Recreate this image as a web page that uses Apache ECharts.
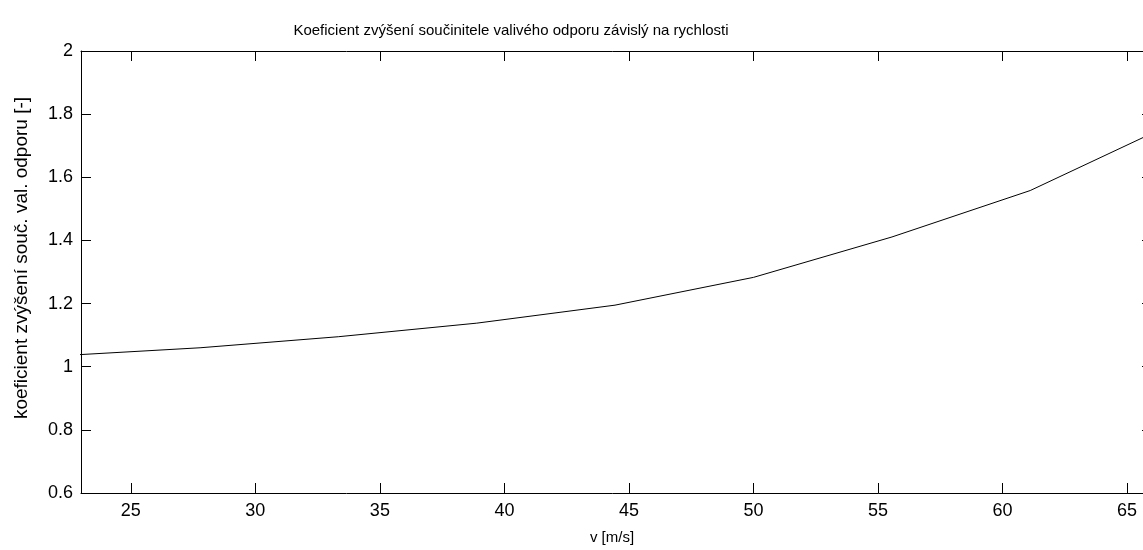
<!DOCTYPE html>
<html>
<head>
<meta charset="utf-8">
<script src="https://cdn.jsdelivr.net/npm/echarts@6/dist/echarts.min.js"></script>
<style>
  html, body { margin: 0; padding: 0; background: #fff; }
  #chart { width: 1143px; height: 550px; }
</style>
</head>
<body>
<div id="chart"></div>
<script>
// Speeds (m/s) and the corresponding rolling-resistance increase coefficient
const speeds = [22.22, 27.78, 33.33, 38.89, 44.44, 50.00, 55.56, 61.11, 66.67];
const coefficients = [1.035, 1.060, 1.095, 1.138, 1.195, 1.283, 1.411, 1.558, 1.764];

// Axis ranges and tick spacing
const X_MIN = 23, X_MAX = 66, X_STEP = 5;
const Y_MIN = 0.6, Y_MAX = 2, Y_STEP = 0.2;

const titleText = 'Koeficient zvýšení součinitele valivého odporu závislý na rychlosti';
const xName = 'v [m/s]';
const yName = 'koeficient zvýšení souč. val. odporu [-]';

const labelFont = '"Liberation Sans", Arial, sans-serif';

const PLOT = { left: 81, top: 51, width: 1071, height: 442 };
const TICK_LEN = 10;

const chart = echarts.init(document.getElementById('chart'), null, { renderer: 'canvas' });

function gridRect(r) {
  return Object.assign({ containLabel: false, outerBoundsMode: 'none' }, r);
}
function axisLine(show) {
  return { show: show, onZero: false, lineStyle: { color: '#000', width: 1 } };
}
function tick(show) {
  return show ? { show: true, inside: true, length: TICK_LEN, lineStyle: { color: '#000', width: 1 } }
              : { show: false };
}
// short split lines inside a thin strip act as the inward tick marks
function strip(show) {
  return show ? { show: true, lineStyle: { color: '#000', width: 1, type: 'solid' } } : { show: false };
}

function xAxisCfg(o) {
  return {
    gridIndex: o.grid,
    type: 'value', min: X_MIN, max: X_MAX, position: o.position,
    // ticks fall on multiples of X_STEP between the fixed limits
    splitNumber: Math.round((X_MAX - X_MIN) / X_STEP),
    minInterval: X_STEP, maxInterval: X_STEP,
    axisLine: axisLine(o.line !== false),
    axisTick: tick(!!o.tick),
    axisLabel: o.labels ? {
      margin: 9, color: '#000', fontFamily: labelFont, fontSize: 18,
      showMinLabel: false, showMaxLabel: false
    } : { show: false },
    splitLine: strip(!!o.split)
  };
}

function yAxisCfg(o) {
  return {
    gridIndex: o.grid,
    type: 'value', min: Y_MIN, max: Y_MAX, interval: Y_STEP, position: o.position,
    axisLine: axisLine(o.line !== false),
    axisTick: tick(!!o.tick),
    axisLabel: o.labels ? {
      margin: 8, color: '#000', fontFamily: labelFont, fontSize: 18,
      formatter: v => String(+v.toFixed(1))
    } : { show: false },
    splitLine: strip(!!o.split)
  };
}

chart.setOption({
  animation: false,
  backgroundColor: '#fff',
  grid: [
    gridRect(PLOT),                                                                                           // 0: data grid
    gridRect({ left: PLOT.left, top: PLOT.top + PLOT.height - TICK_LEN, width: PLOT.width, height: TICK_LEN }), // 1: bottom tick strip
    gridRect({ left: PLOT.left, top: PLOT.top, width: TICK_LEN, height: PLOT.height })                        // 2: left tick strip
  ],
  xAxis: [
    xAxisCfg({ grid: 0, position: 'bottom', labels: true, tick: true }),
    xAxisCfg({ grid: 0, position: 'top', tick: true }),
    xAxisCfg({ grid: 1, position: 'bottom', line: false, split: true }),
    xAxisCfg({ grid: 2, position: 'bottom', line: false })
  ],
  yAxis: [
    yAxisCfg({ grid: 0, position: 'left', labels: true, tick: true }),
    yAxisCfg({ grid: 0, position: 'right', tick: true }),
    yAxisCfg({ grid: 1, position: 'left', line: false }),
    yAxisCfg({ grid: 2, position: 'left', line: false, split: true })
  ],
  graphic: [
    {
      type: 'text', x: 511, y: 31,
      style: {
        text: titleText, fill: '#000',
        font: '15px ' + labelFont,
        textAlign: 'center', textVerticalAlign: 'middle'
      }
    },
    {
      type: 'text', x: 612, y: 538,
      style: {
        text: xName, fill: '#000',
        font: '15px ' + labelFont,
        textAlign: 'center', textVerticalAlign: 'middle'
      }
    },
    {
      type: 'text', x: 22, y: 258, rotation: Math.PI / 2,
      style: {
        text: yName, fill: '#000',
        font: '19px ' + labelFont,
        textAlign: 'center', textVerticalAlign: 'middle'
      }
    }
  ],
  series: [
    {
      type: 'line',
      xAxisIndex: 0, yAxisIndex: 0,
      data: speeds.map((v, i) => [v, coefficients[i]]),
      showSymbol: false, symbol: 'none',
      clip: true,
      lineStyle: { color: '#000', width: 1 }
    }
  ]
});
</script>
</body>
</html>
